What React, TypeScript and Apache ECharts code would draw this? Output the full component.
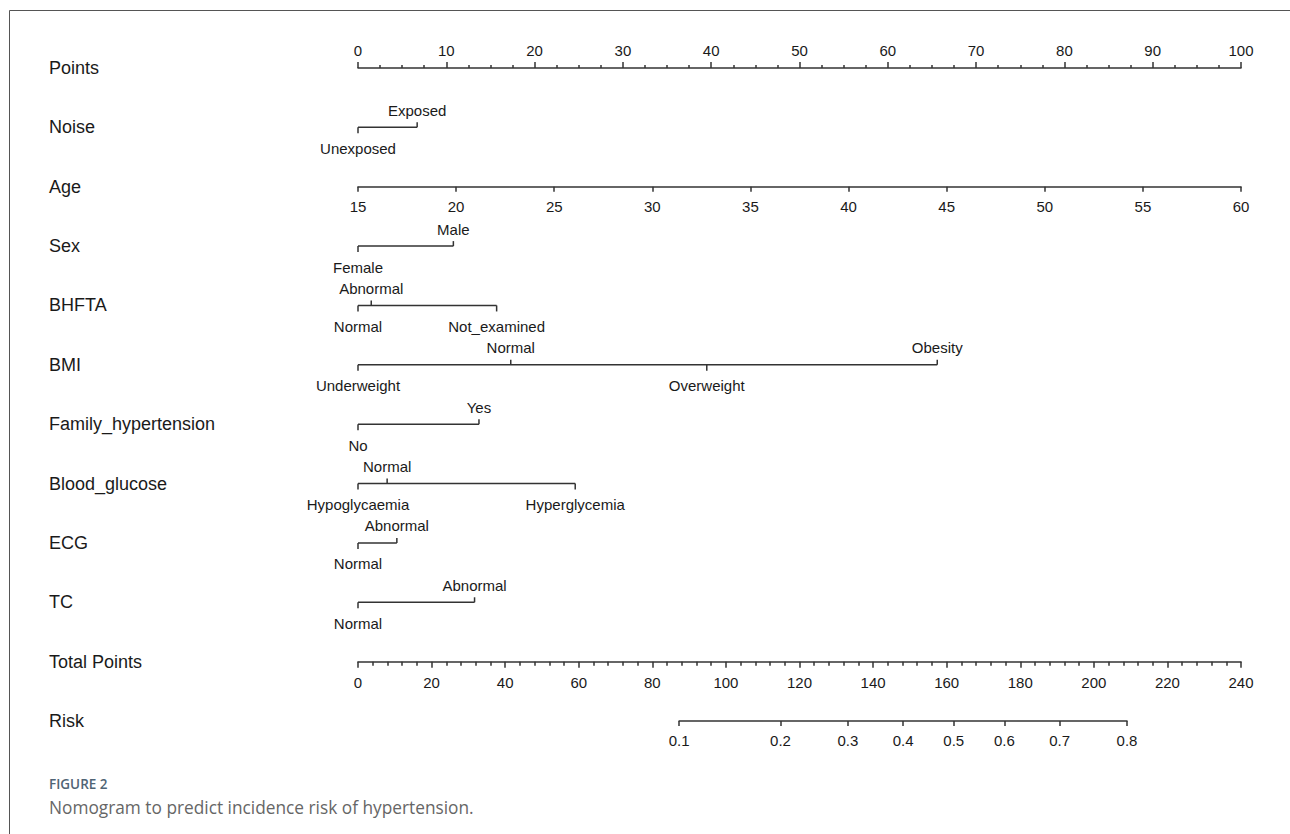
import React, { useEffect, useRef } from "react";
import * as echarts from "echarts";

// ---- Data ----
const rowNames = [
  "Points", "Noise", "Age", "Sex", "BHFTA", "BMI", "Family_hypertension",
  "Blood_glucose", "ECG", "TC", "Total Points", "Risk",
];

const pointsMin = 0, pointsMax = 100, pointsInterval = 10;
const ageMin = 15, ageMax = 60, ageInterval = 5;
const totalMin = 0, totalMax = 240, totalInterval = 20;

const noiseLevels = ["Unexposed", "Exposed"];
const noisePoints = [0, 6.7];
const sexLevels = ["Female", "Male"];
const sexPoints = [0, 10.8];
const bhftaLevels = ["Normal", "Abnormal", "Not_examined"];
const bhftaPoints = [0, 1.5, 15.7];
const bmiLevels = ["Underweight", "Normal", "Overweight", "Obesity"];
const bmiPoints = [0, 17.3, 39.5, 65.6];
const familyLevels = ["No", "Yes"];
const familyPoints = [0, 13.7];
const glucoseLevels = ["Hypoglycaemia", "Normal", "Hyperglycemia"];
const glucosePoints = [0, 3.3, 24.6];
const ecgLevels = ["Normal", "Abnormal"];
const ecgPoints = [0, 4.4];
const tcLevels = ["Normal", "Abnormal"];
const tcPoints = [0, 13.2];

const riskTicks = [0.1, 0.2, 0.3, 0.4, 0.5, 0.6, 0.7, 0.8];
// linear predictor = riskIntercept + riskSlope * totalPoints
const riskIntercept = -4.767;
const riskSlope = 0.02944;

// ---- Layout / style ----
const W = 1290, H = 834;
const axisLeft = 358, axisRight = 1241;
const rowTop = 68, rowBottom = 721;
const lineColor = "#333";
const textColor = "#1a1a1a";
const fontFamily = "'Liberation Sans', Arial, sans-serif";

const catVars = [
  { row: 1, levels: noiseLevels, points: noisePoints },
  { row: 3, levels: sexLevels, points: sexPoints },
  { row: 4, levels: bhftaLevels, points: bhftaPoints },
  { row: 5, levels: bmiLevels, points: bmiPoints },
  { row: 6, levels: familyLevels, points: familyPoints },
  { row: 7, levels: glucoseLevels, points: glucosePoints },
  { row: 8, levels: ecgLevels, points: ecgPoints },
  { row: 9, levels: tcLevels, points: tcPoints },
];

const logit = (p: number) => Math.log(p / (1 - p));
const tpForRisk = (r: number) => (logit(r) - riskIntercept) / riskSlope;
const riskForTp = (tp: number) => 1 / (1 + Math.exp(-(riskIntercept + riskSlope * tp)));
const rowY = (i: number) => rowTop + (i * (rowBottom - rowTop)) / (rowNames.length - 1);
const tpToPx = (tp: number) => axisLeft + ((tp - totalMin) / (totalMax - totalMin)) * (axisRight - axisLeft);

export default function App() {
  const ref = useRef<HTMLDivElement>(null);
  useEffect(() => {
    if (!ref.current) return;
    const chart = echarts.init(ref.current, undefined, { renderer: "svg" });

    const riskLo = tpForRisk(riskTicks[0]);
    const riskHi = tpForRisk(riskTicks[riskTicks.length - 1]);

    const lineStyle = { color: lineColor, width: 1.5 };
    const labelStyle = { color: textColor, fontSize: 15, fontFamily };

    const option: any = {
      animation: false,
      backgroundColor: "#fff",
      grid: [
        { left: axisLeft, right: W - axisRight, top: rowTop, bottom: H - rowBottom },
        { left: axisLeft, right: W - axisRight, top: rowY(0), height: 20 },
        { left: axisLeft, right: W - axisRight, top: rowY(2) - 20, height: 20 },
        { left: axisLeft, right: W - axisRight, top: rowY(10) - 20, height: 20 },
        { left: tpToPx(riskLo), right: W - tpToPx(riskHi), top: rowY(11) - 20, height: 20 },
      ],
      xAxis: [
        { gridIndex: 0, type: "value", min: pointsMin, max: pointsMax, show: false },
        {
          gridIndex: 1, type: "value", position: "top", min: pointsMin, max: pointsMax, interval: pointsInterval,
          axisLine: { show: true, onZero: false, lineStyle },
          axisTick: { show: true, length: 6, lineStyle },
          minorTick: { show: true, splitNumber: 4, length: 3, lineStyle },
          axisLabel: { ...labelStyle, margin: 10 },
          splitLine: { show: false },
        },
        {
          gridIndex: 2, type: "value", position: "bottom", min: ageMin, max: ageMax, interval: ageInterval,
          axisLine: { show: true, onZero: false, lineStyle },
          axisTick: { show: true, length: 5, lineStyle },
          axisLabel: { ...labelStyle, margin: 12 },
          splitLine: { show: false },
        },
        {
          gridIndex: 3, type: "value", position: "bottom", min: totalMin, max: totalMax, interval: totalInterval,
          axisLine: { show: true, onZero: false, lineStyle },
          axisTick: { show: true, length: 6, lineStyle },
          minorTick: { show: true, splitNumber: 5, length: 4, lineStyle },
          axisLabel: { ...labelStyle, margin: 13 },
          splitLine: { show: false },
        },
        {
          gridIndex: 4, type: "value", position: "bottom", min: riskLo, max: riskHi,
          axisLine: { show: true, onZero: false, lineStyle },
          axisTick: { show: true, length: 5, lineStyle, customValues: riskTicks.map(tpForRisk) },
          axisLabel: {
            ...labelStyle, margin: 12,
            customValues: riskTicks.map(tpForRisk),
            formatter: (v: number) => riskForTp(v).toFixed(1),
          },
          splitLine: { show: false },
        },
      ],
      yAxis: [
        {
          gridIndex: 0, type: "category", inverse: true, boundaryGap: false, data: rowNames,
          axisLine: { show: false }, axisTick: { show: false }, splitLine: { show: false },
          axisLabel: {
            align: "left", margin: axisLeft - 49, color: textColor, fontSize: 18, fontFamily,
            padding: [3, 0, 0, 0],
          },
        },
        { gridIndex: 1, type: "value", show: false },
        { gridIndex: 2, type: "value", show: false },
        { gridIndex: 3, type: "value", show: false },
        { gridIndex: 4, type: "value", show: false },
      ],
      series: [
        {
          type: "custom",
          xAxisIndex: 0,
          yAxisIndex: 0,
          clip: false,
          data: catVars.map((v) => [0, v.row]),
          renderItem: (params: any, api: any) => {
            const v = catVars[params.dataIndex];
            const row = api.value(1);
            const order = v.points.map((_, i) => i).sort((a, b) => v.points[a] - v.points[b]);
            const lo = v.points[order[0]];
            const hi = v.points[order[order.length - 1]];
            const [x0, y] = api.coord([lo, row]);
            const [x1] = api.coord([hi, row]);
            const stroke = { stroke: lineColor, lineWidth: 1.5 };
            const children: any[] = [
              { type: "line", shape: { x1: x0, y1: y, x2: x1, y2: y }, style: stroke },
            ];
            order.forEach((li, k) => {
              const below = k % 2 === 0;
              const [x] = api.coord([v.points[li], row]);
              children.push({
                type: "line",
                shape: { x1: x, y1: y, x2: x, y2: below ? y + 6 : y - 5 },
                style: stroke,
              });
              children.push({
                type: "text",
                x,
                y: below ? y + 21 : y - 17,
                style: {
                  text: v.levels[li], align: "center", verticalAlign: "middle",
                  fontSize: 15, fill: textColor, fontFamily,
                },
              });
            });
            return { type: "group", children };
          },
        },
      ],
      graphic: [
        { type: "line", shape: { x1: 9.5, y1: 10.5, x2: W, y2: 10.5 }, style: { stroke: "#555", lineWidth: 1 } },
        { type: "line", shape: { x1: 9.5, y1: 10.5, x2: 9.5, y2: H }, style: { stroke: "#555", lineWidth: 1 } },
        {
          type: "text", x: 49, y: 784,
          style: {
            text: "FIGURE 2", fill: "#4f6475", fontSize: 13.5, fontWeight: 600,
            fontFamily: "'Open Sans', 'Noto Sans', sans-serif", verticalAlign: "middle",
          },
        },
        {
          type: "text", x: 49, y: 807,
          style: {
            text: "Nomogram to predict incidence risk of hypertension.", fill: "#666",
            fontSize: 17.3, fontFamily: "'Open Sans', 'Noto Sans', sans-serif", verticalAlign: "middle",
          },
        },
      ],
    };
    chart.setOption(option);
    return () => chart.dispose();
  }, []);

  return (
    <div
      ref={ref}
      style={{ position: "fixed", left: 0, top: 0, width: W, height: H, background: "#fff" }}
    />
  );
}
